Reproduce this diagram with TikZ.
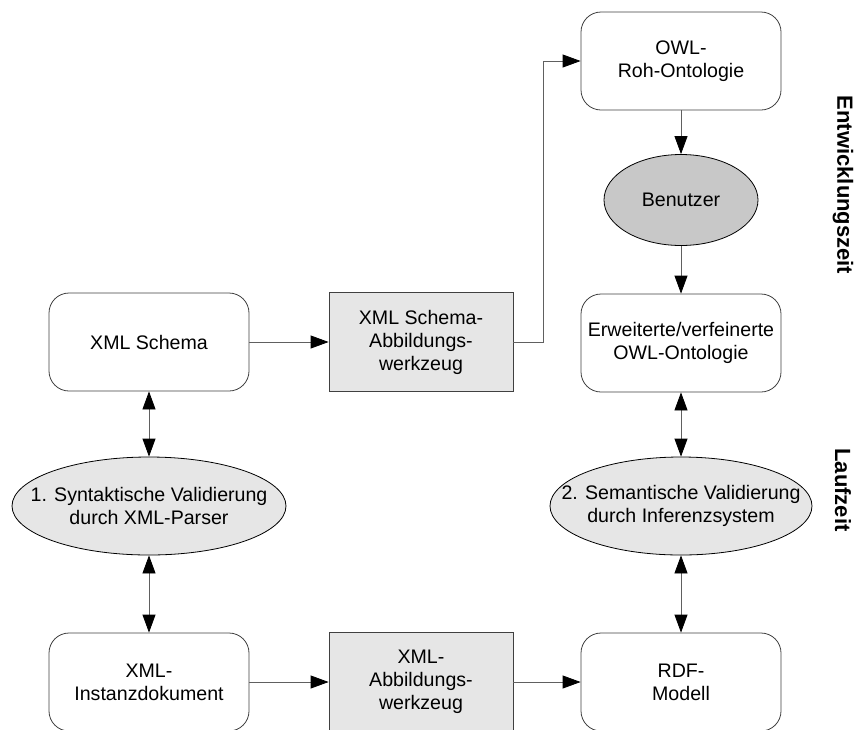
\documentclass[tikz,border=0pt]{standalone}
\usepackage{fontspec}
\setmainfont{Liberation Sans}
\usepackage{tikz}
\usetikzlibrary{shapes.geometric, positioning, arrows.meta, calc}

\definecolor{linegray}{RGB}{64,64,64}
\definecolor{wiregray}{RGB}{96,96,96}
\definecolor{toolgray}{RGB}{230,230,230}
\definecolor{usergray}{RGB}{200,200,200}

\begin{document}
\begin{tikzpicture}[
    x = 0.5pt, y = -0.5pt,
    > = {Triangle[length=9pt, width=6.5pt, color=black]},
    font = \fontsize{9.8}{11.5}\selectfont,
    every node/.style={align=center},
    wire/.style={draw=wiregray, thin},
    box/.style={draw=linegray, fill=white, rounded corners=10pt,
        minimum width=100pt, minimum height=49pt, inner sep=2pt},
    tool/.style={draw=linegray, fill=toolgray,
        minimum width=92pt, minimum height=49.5pt, inner sep=2pt},
    check/.style={ellipse, draw=black, fill=toolgray,
        minimum width=137pt, minimum height=49pt,
        inner xsep=-30pt, inner ysep=0pt},
    user/.style={ellipse, draw=black, fill=usergray,
        minimum width=77pt, minimum height=45.5pt, inner sep=0pt},
    phase/.style={font=\fontsize{11}{13}\selectfont\bfseries, rotate=-90}
]
\useasboundingbox (0,0) rectangle (862,729);

% --- Entwicklungszeit ---
\node[box] (owl) at (681,61) {OWL-\\Roh-Ontologie};
\node[user] (user) at (681,200) {Benutzer};
\node[box] (ext) at (681,343) {Erweiterte/verfeinerte\\OWL-Ontologie};
\node[box] (schema) at (149,342) {XML Schema};
\node[tool] (smap) at (421,342) {XML Schema-\\Abbildungs-\\werkzeug};

% --- Laufzeit ---
\node[check] (syn) at (149,506) {1. Syntaktische Validierung\\durch XML-Parser};
\node[check, minimum width=131pt] (sem) at (681,506) {2. Semantische Validierung\\durch Inferenzsystem};
\node[box] (inst) at (149,682) {XML-\\Instanzdokument};
\node[tool] (xmap) at (421,682) {XML-\\Abbildungs-\\werkzeug};
\node[box] (rdf) at (681,682) {RDF-\\Modell};

% phase labels
\node[phase] (dev) at (843,185) {Entwicklungszeit};
\node[phase] (run) at (843,490) {Laufzeit};

% connectors
\draw[wire, ->] (schema) -- (smap);
\draw[wire, ->] (smap.east) -- ++(30,0) |- (owl.west);
\draw[wire, ->] (owl) -- (user);
\draw[wire, ->] (user) -- (ext);
\draw[wire, <->] (ext) -- (sem);
\draw[wire, <->] (sem) -- (rdf);
\draw[wire, <->] (schema) -- (syn);
\draw[wire, <->] (syn) -- (inst);
\draw[wire, ->] (inst) -- (xmap);
\draw[wire, ->] (xmap) -- (rdf);

\end{tikzpicture}
\end{document}
